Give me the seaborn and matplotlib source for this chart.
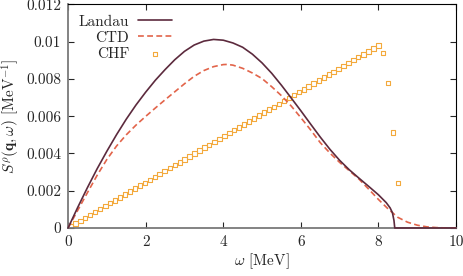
import numpy as np
import pandas as pd
import matplotlib
matplotlib.use('Agg')
import matplotlib.pyplot as plt
import seaborn as sns

# values, y in units of 1e-3 MeV^-1
landau_w = [0, 0.25, 0.5, 0.75, 1.0, 1.25, 1.5, 1.75, 2.0, 2.25, 2.5, 2.75, 3.0, 3.25,
            3.5, 3.75, 4.0, 4.25, 4.5, 4.75, 5.0, 5.25, 5.5, 5.75, 6.0, 6.25, 6.5, 6.75,
            7.0, 7.25, 7.5, 7.75, 8.0, 8.2, 8.3, 8.36, 8.4, 8.42, 9.0, 10.0]
landau_s = [0, 1.11, 2.17, 3.18, 4.12, 5.01, 5.84, 6.60, 7.29, 7.93, 8.50, 9.03, 9.48, 9.82,
            10.03, 10.12, 10.08, 9.93, 9.70, 9.33, 8.86, 8.30, 7.66, 6.98, 6.29, 5.58, 4.88,
            4.22, 3.63, 3.12, 2.67, 2.23, 1.78, 1.36, 1.08, 0.82, 0.40, 0, 0, 0]

ctd_w = [0, 0.25, 0.5, 0.75, 1.0, 1.25, 1.5, 1.75, 2.0, 2.25, 2.5, 2.75, 3.0, 3.25,
         3.5, 3.75, 4.0, 4.1, 4.25, 4.5, 4.75, 5.0, 5.25, 5.5, 5.75, 6.0, 6.25, 6.5, 6.75,
         7.0, 7.25, 7.5, 7.75, 8.0, 8.25, 8.5, 8.75, 9.0, 9.25, 9.5, 9.75, 10.0]
ctd_s = [0, 0.95, 1.90, 2.83, 3.68, 4.40, 5.00, 5.52, 5.99, 6.44, 6.88, 7.31, 7.74, 8.14,
         8.45, 8.66, 8.77, 8.78, 8.74, 8.57, 8.32, 8.02, 7.58, 7.10, 6.55, 5.92, 5.27, 4.58,
         4.02, 3.52, 3.07, 2.62, 2.08, 1.53, 1.02, 0.57, 0.31, 0.15, 0.06, 0.02, 0.0, 0.0]

chf_w = [0.06, 0.19, 0.32, 0.44, 0.57, 0.70, 0.83, 0.96, 1.08, 1.21, 1.34, 1.47, 1.60,
         1.72, 1.85, 1.98, 2.11, 2.24, 2.36, 2.49, 2.62, 2.75, 2.88, 3.00, 3.13, 3.26,
         3.39, 3.52, 3.64, 3.77, 3.90, 4.03, 4.16, 4.28, 4.41, 4.54, 4.67, 4.80, 4.92,
         5.05, 5.18, 5.31, 5.44, 5.56, 5.69, 5.82, 5.95, 6.08, 6.20, 6.33, 6.46, 6.59,
         6.72, 6.84, 6.97, 7.10, 7.23, 7.36, 7.48, 7.61, 7.74, 7.87, 8.00, 8.12, 8.25,
         8.38, 8.51]
chf_s = [0.07, 0.23, 0.39, 0.54, 0.70, 0.86, 1.01, 1.17, 1.33, 1.48, 1.64, 1.80, 1.96,
         2.11, 2.27, 2.43, 2.58, 2.74, 2.90, 3.05, 3.21, 3.37, 3.52, 3.68, 3.84, 3.99,
         4.15, 4.31, 4.46, 4.62, 4.78, 4.93, 5.09, 5.25, 5.40, 5.56, 5.72, 5.88, 6.03,
         6.19, 6.35, 6.50, 6.66, 6.82, 6.97, 7.13, 7.29, 7.44, 7.60, 7.76, 7.91, 8.07,
         8.23, 8.38, 8.54, 8.70, 8.85, 9.01, 9.17, 9.32, 9.48, 9.64, 9.80, 9.40, 7.79,
         5.13, 2.40]

x_ticks = [0, 2, 4, 6, 8, 10]
y_ticks = [0, 0.002, 0.004, 0.006, 0.008, 0.01, 0.012]
y_labels = ['0', '0.002', '0.004', '0.006', '0.008', '0.01', '0.012']

landau = pd.DataFrame({'w': landau_w, 's': np.array(landau_s) * 1e-3})
ctd = pd.DataFrame({'w': ctd_w, 's': np.array(ctd_s) * 1e-3})
chf = pd.DataFrame({'w': chf_w, 's': np.array(chf_s) * 1e-3})

sns.set_style('ticks')
plt.rcParams['font.family'] = ['cmr10', 'DejaVu Serif']
plt.rcParams['mathtext.fontset'] = 'cm'
plt.rcParams['axes.formatter.use_mathtext'] = True
plt.rcParams['font.size'] = 11

fig = plt.figure(figsize=(4.63, 2.76), dpi=100)
ax = fig.add_axes([0.147, 0.174, 0.838, 0.81])

sns.lineplot(data=landau, x='w', y='s', ax=ax, color='#5c2a3d', lw=1.2,
             label='Landau', sort=False, clip_on=False, zorder=4)
sns.lineplot(data=ctd, x='w', y='s', ax=ax, color='#e2644a', lw=1.2,
             label='CTD', sort=False, zorder=3)
ax.lines[-1].set_dashes([3.5, 2.0])
sns.scatterplot(data=chf, x='w', y='s', ax=ax, marker='s', s=10,
                facecolor='none', edgecolor='#f3a93c', linewidth=0.8,
                label='CHF', zorder=2)

ax.set_xlim(0, 10)
ax.set_ylim(0, 0.012)
ax.set_xticks(x_ticks)
ax.set_xticklabels([str(t) for t in x_ticks])
ax.set_yticks(y_ticks)
ax.set_yticklabels(y_labels)
ax.tick_params(direction='in', top=True, right=True, length=4, width=0.8,
               labelsize=11, pad=5)
for side in ['top', 'right']:
    ax.spines[side].set_color('black')
    ax.spines[side].set_linewidth(0.8)
for side in ['left', 'bottom']:
    ax.spines[side].set_color('#7a7a7a')
    ax.spines[side].set_linewidth(1.3)

ax.set_xlabel(r'$\omega$ [MeV]', fontsize=11, labelpad=2)
ax.set_ylabel(r'$S^{\rho}(\mathbf{q},\omega)$ [MeV$^{-1}$]', fontsize=11, labelpad=3)

ax.legend(loc='upper left', bbox_to_anchor=(0.0, 1.0), frameon=False,
          markerfirst=False, handlelength=2.2, labelspacing=0.15,
          handletextpad=0.6, borderaxespad=0.3, fontsize=11)

fig.savefig('out.png', dpi=100)
